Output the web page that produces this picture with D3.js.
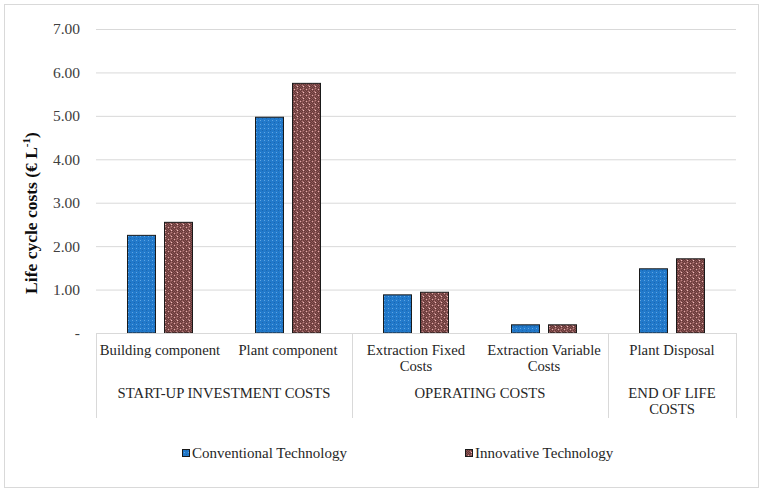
<!DOCTYPE html>
<html><head><meta charset="utf-8">
<script src="https://cdn.jsdelivr.net/npm/d3@7"></script>
<style>
body{margin:0;background:#fff;}
svg{display:block;font-family:"Liberation Serif","Times New Roman",serif;}
</style></head>
<body><svg id="c" width="765" height="494"></svg>
<script>
const categories = ["Building component","Plant component","Extraction Fixed Costs","Extraction Variable Costs","Plant Disposal"];
const categoryLines = [["Building component"],["Plant component"],["Extraction Fixed","Costs"],["Extraction Variable","Costs"],["Plant Disposal"]];
const groups = [
  {name:["START-UP INVESTMENT COSTS"], from:0, to:1},
  {name:["OPERATING COSTS"], from:2, to:3},
  {name:["END OF LIFE","COSTS"], from:4, to:4}
];
const seriesNames = ["Conventional Technology","Innovative Technology"];
const conventional = [2.26, 4.98, 0.89, 0.20, 1.49];
const innovative = [2.56, 5.76, 0.95, 0.20, 1.72];
const yTicks = [0,1,2,3,4,5,6,7];
const yTickLabels = ["-","1.00","2.00","3.00","4.00","5.00","6.00","7.00"];

const svg = d3.select("#c");
const defs = svg.append("defs");
// blue pattern
const pb = defs.append("pattern").attr("id","pBlue").attr("width",4).attr("height",4).attr("patternUnits","userSpaceOnUse");
pb.append("rect").attr("width",4).attr("height",4).attr("fill","#2279ca");
pb.append("rect").attr("x",0).attr("y",0).attr("width",1).attr("height",1).attr("fill","#5fa6e4");
pb.append("rect").attr("x",2).attr("y",2).attr("width",1).attr("height",1).attr("fill","#1a66b0");
// brown pattern
const pr = defs.append("pattern").attr("id","pRed").attr("width",6).attr("height",6).attr("patternUnits","userSpaceOnUse");
pr.append("rect").attr("width",6).attr("height",6).attr("fill","#8a5453");
[[1,0],[3,0],[5,0],[0,1],[4,1],[1,2],[5,2],[0,3],[2,3],[4,3],[1,4],[5,4],[0,5],[4,5]].forEach(([px,py])=>{
  pr.append("rect").attr("x",px).attr("y",py).attr("width",1).attr("height",1).attr("fill","#663939");
});
pr.append("rect").attr("x",3).attr("y",2).attr("width",1).attr("height",1).attr("fill","#f2c0c0");
pr.append("rect").attr("x",2).attr("y",1).attr("width",1).attr("height",1).attr("fill","#b88080");
pr.append("rect").attr("x",3).attr("y",4).attr("width",1).attr("height",1).attr("fill","#b88080");
pr.append("rect").attr("x",0).attr("y",5).attr("width",1).attr("height",1).attr("fill","#e3aaaa");
const fills = ["url(#pBlue)","url(#pRed)"];

// outer border
svg.append("rect").attr("x",4.5).attr("y",4.5).attr("width",754).attr("height",483)
  .attr("fill","#fff").attr("stroke","#d9d9d9").attr("stroke-width",1);

const pLeft = 96, pRight = 736, pTop = 29, pBottom = 333;
const y = d3.scaleLinear().domain([0,7]).range([pBottom, pTop]);
const x = d3.scaleBand().domain(categories).range([pLeft,pRight]).padding(0);
const xs = d3.scaleBand().domain(seriesNames).range([31,97]).paddingInner(8/37).paddingOuter(0);

// gridlines
const yAxis = d3.axisLeft(y).tickValues(yTicks).tickSize(-(pRight-pLeft)).tickFormat((d,i)=>yTickLabels[i]).tickPadding(16);
const gy = svg.append("g").attr("transform",`translate(${pLeft},0)`).call(yAxis);
gy.select(".domain").remove();
gy.selectAll(".tick line").attr("stroke","#d9d9d9").attr("stroke-width",1);
gy.selectAll(".tick text").attr("fill","#404040").attr("font-size","15.5px").attr("font-family","Liberation Serif");

// bars
const data = [conventional, innovative];
data.forEach((vals,si)=>{
  svg.append("g").selectAll("rect").data(vals).join("rect")
    .attr("x",(d,i)=>x(categories[i])+xs(seriesNames[si])+0.5)
    .attr("y",d=>y(d)+0.5)
    .attr("width",xs.bandwidth()-1)
    .attr("height",d=>pBottom-y(d)-0.5)
    .attr("fill",fills[si]).attr("stroke","#1a1a1a").attr("stroke-width",1);
});

// category axis box
const boxBottom = 418;
const lineCol = "#d9d9d9";
svg.append("line").attr("x1",pLeft).attr("x2",pRight).attr("y1",pBottom+0.5).attr("y2",pBottom+0.5).attr("stroke",lineCol);
const divs = [pLeft, x(categories[2]), x(categories[4]), pRight];
divs.forEach(dx=>{
  svg.append("line").attr("x1",Math.round(dx)+0.5).attr("x2",Math.round(dx)+0.5).attr("y1",pBottom).attr("y2",boxBottom).attr("stroke",lineCol);
});
// category labels
const fs = "14.7px";
categoryLines.forEach((lines,i)=>{
  const cx = x(categories[i])+x.bandwidth()/2;
  const t = svg.append("text").attr("x",cx).attr("y",355)
    .attr("text-anchor","middle").attr("font-size",fs).attr("fill","#262626");
  lines.forEach((l,j)=>t.append("tspan").attr("x",cx).attr("dy",j?16:0).text(l));
});
groups.forEach(g=>{
  const cx = (x(categories[g.from]) + x(categories[g.to]) + x.bandwidth())/2;
  const t = svg.append("text").attr("x",cx).attr("y",398).attr("text-anchor","middle").attr("font-size",fs).attr("fill","#262626");
  g.name.forEach((l,j)=>t.append("tspan").attr("x",cx).attr("dy",j?16:0).text(l));
});

// y axis title
svg.append("text").attr("transform","translate(37,213) rotate(-90)").attr("text-anchor","middle")
  .attr("font-size","17.5px").attr("font-weight","bold").attr("fill","#0d0d0d")
  .html('Life cycle costs (€ L<tspan dy="-7" font-size="11px">-1</tspan><tspan dy="7">)</tspan>');

// legend
const legX = [182, 465];
seriesNames.forEach((s,i)=>{
  svg.append("rect").attr("x",legX[i]+0.5).attr("y",449.5).attr("width",7).attr("height",7).attr("fill",fills[i]).attr("stroke","#1a1a1a").attr("stroke-width",1);
  svg.append("text").attr("x",legX[i]+10).attr("y",458).attr("font-size","15px").attr("fill","#262626").text(s);
});
</script></body></html>
